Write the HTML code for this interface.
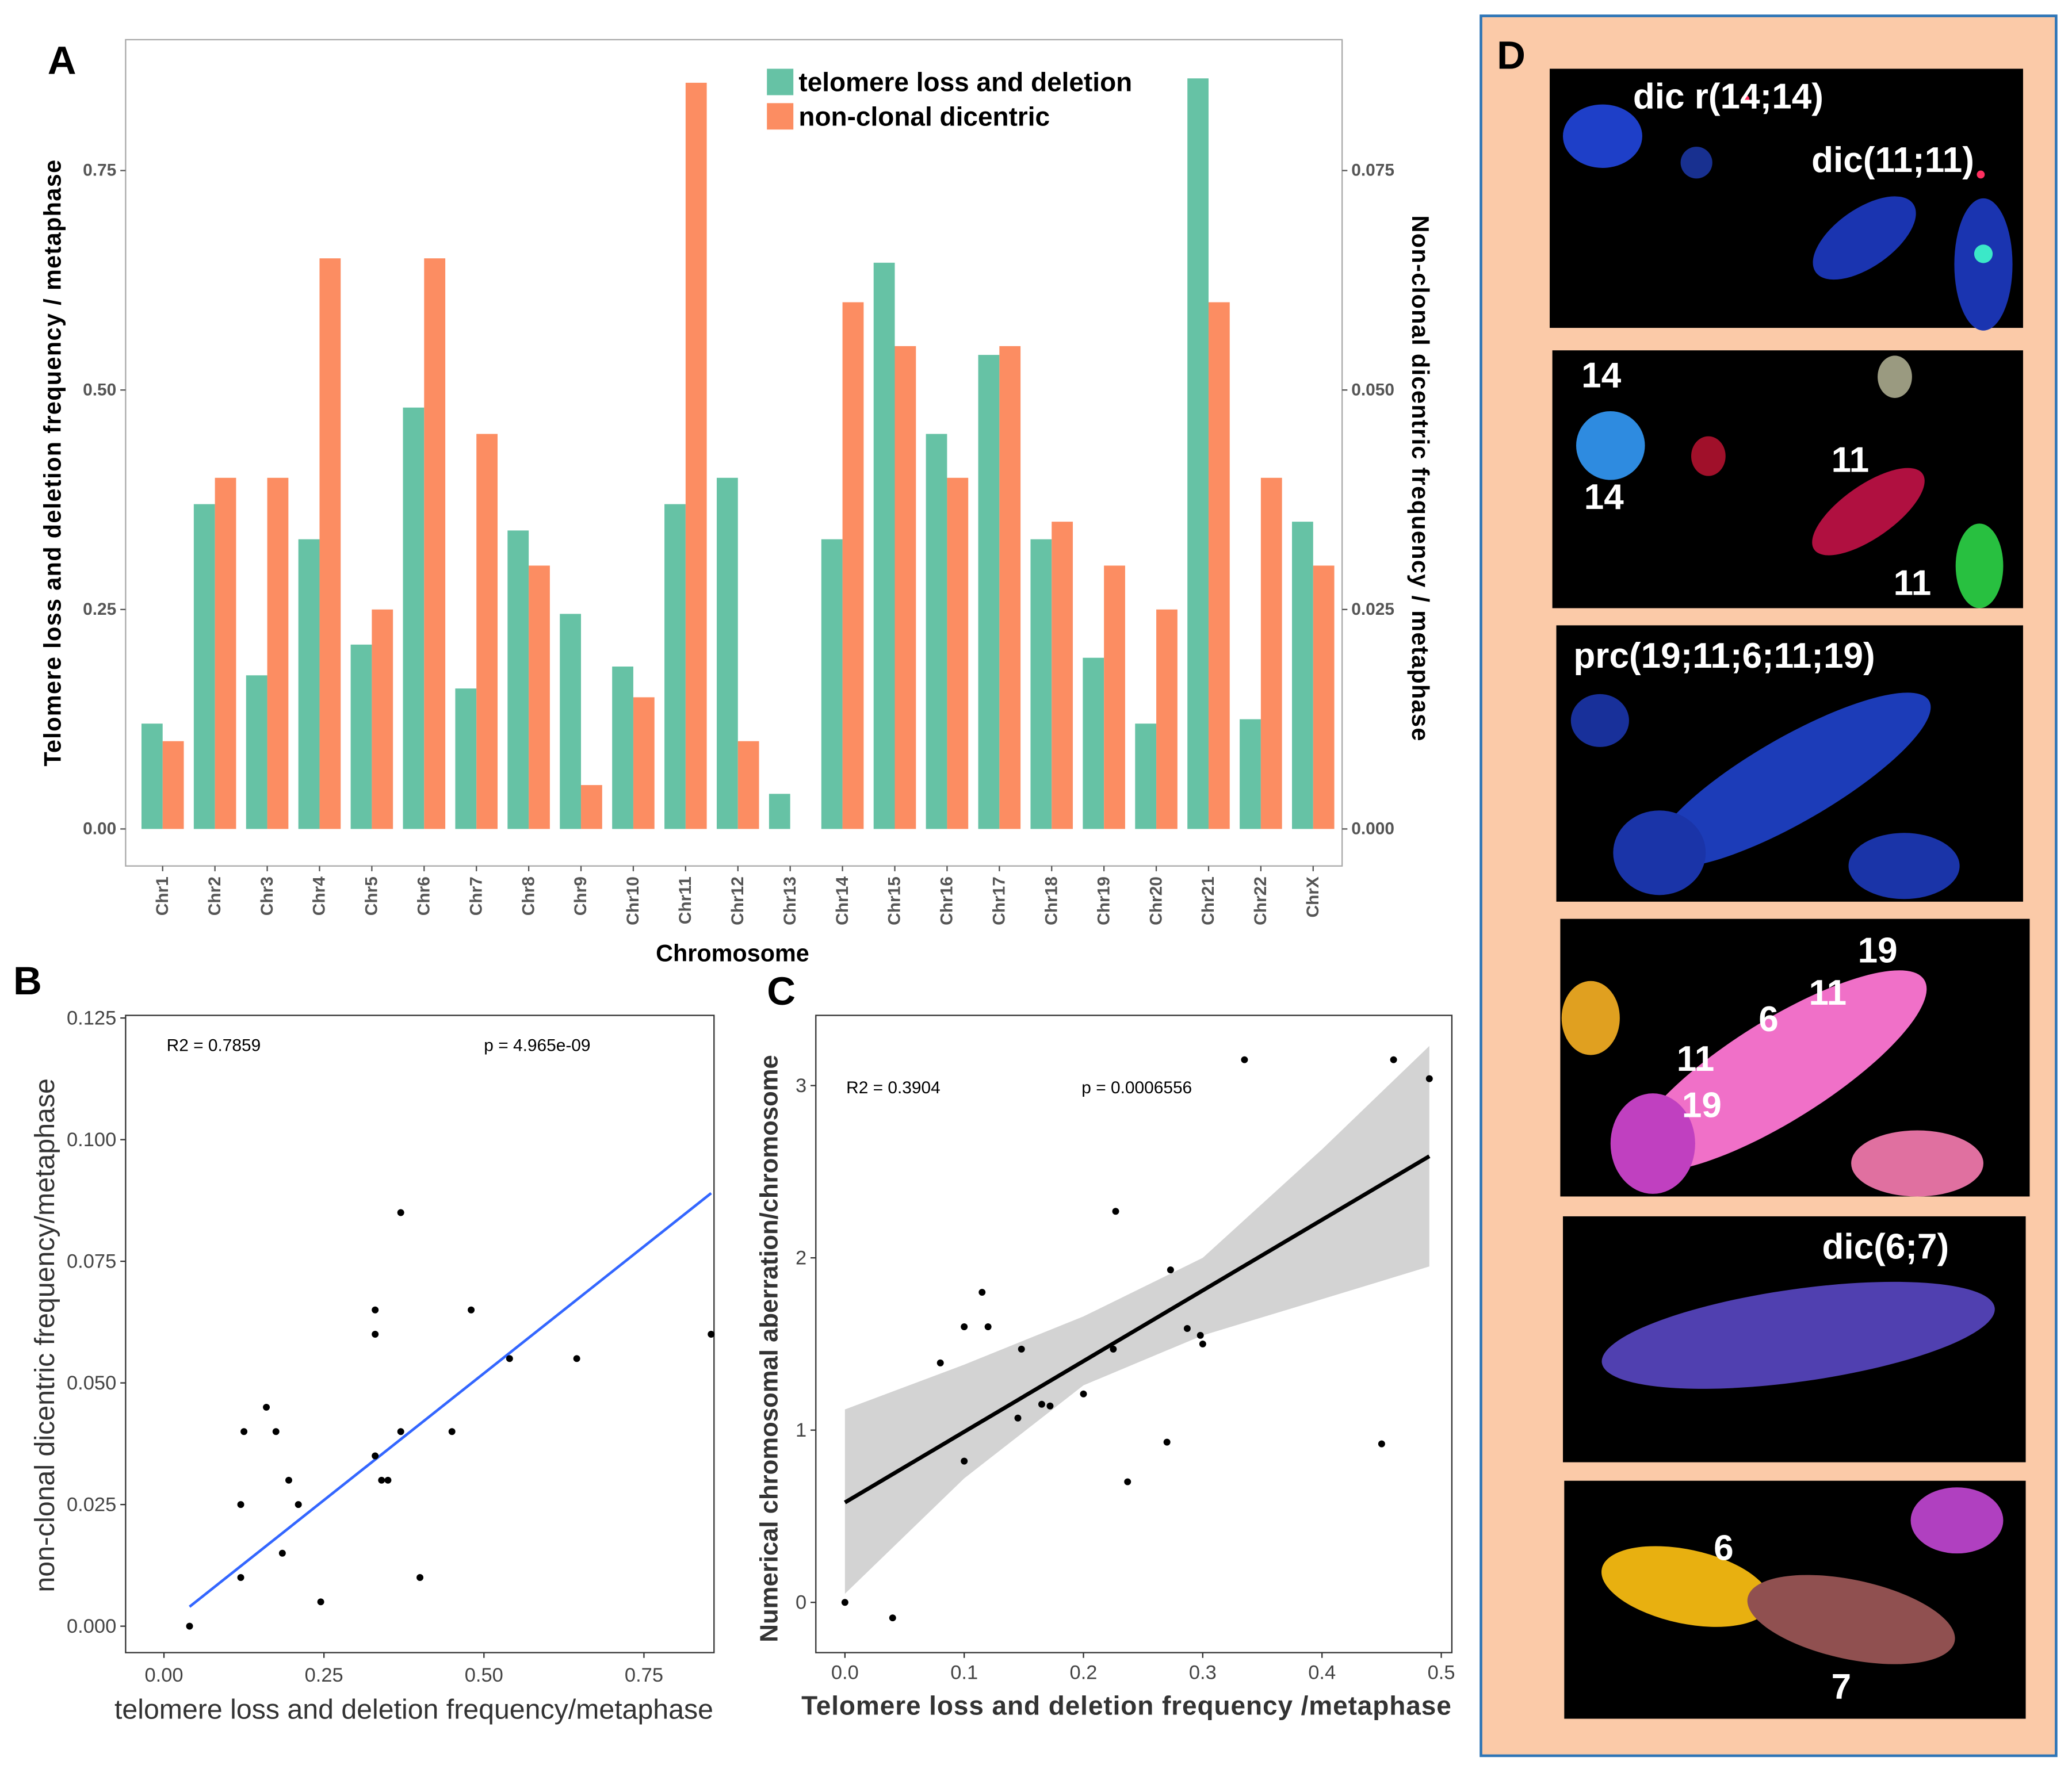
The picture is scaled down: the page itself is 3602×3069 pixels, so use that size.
<!DOCTYPE html>
<html><head><meta charset="utf-8"><style>
html,body{margin:0;padding:0;background:#fff}
svg{display:block}
text{font-family:"Liberation Sans",sans-serif}
</style></head><body>
<svg id="fig" width="3602" height="3069" viewBox="0 0 1567 1335" preserveAspectRatio="none" xmlns="http://www.w3.org/2000/svg">
<rect width="1567" height="1335" fill="#fff"/>
<g id="pA"></g>
<g id="pB"></g>
<g id="pC"></g>
<g id="pD">
 <rect x="1120" y="12" width="435" height="1316" fill="#fbcaa8" stroke="#2e75b6" stroke-width="2"/>
 <text x="1132" y="52" font-size="30" font-weight="bold">D</text>
 <g>
  <rect x="1172" y="52" width="358" height="196" fill="#000"/>
  <ellipse cx="1212" cy="103" rx="30" ry="24" fill="#1e3fc8"/>
  <ellipse cx="1283" cy="123" rx="12" ry="12" fill="#183090"/>
  <ellipse cx="1410" cy="180" rx="45" ry="22" fill="#1a34b0" transform="rotate(-35 1410 180)"/>
  <ellipse cx="1500" cy="200" rx="22" ry="50" fill="#1a34b0"/>
  <circle cx="1500" cy="192" r="7" fill="#3be8c8"/>
  <circle cx="1498" cy="132" r="3" fill="#ff3060"/><circle cx="1320" cy="75" r="3" fill="#ff3060"/>
  <text x="1235" y="82" font-size="27" font-weight="bold" fill="#fff">dic r(14;14)</text>
  <text x="1370" y="130" font-size="27" font-weight="bold" fill="#fff">dic(11;11)</text>
 </g>
 <g>
  <rect x="1174" y="265" width="356" height="195" fill="#000"/>
  <circle cx="1218" cy="337" r="26" fill="#2e8be0"/>
  <ellipse cx="1292" cy="345" rx="13" ry="15" fill="#a0102a"/>
  <ellipse cx="1413" cy="387" rx="50" ry="20" fill="#b01040" transform="rotate(-35 1413 387)"/>
  <ellipse cx="1497" cy="428" rx="18" ry="32" fill="#28c040"/>
  <ellipse cx="1433" cy="285" rx="13" ry="16" fill="#9a9a80"/>
  <text x="1196" y="293" font-size="27" font-weight="bold" fill="#fff">14</text>
  <text x="1198" y="385" font-size="27" font-weight="bold" fill="#fff">14</text>
  <text x="1385" y="357" font-size="27" font-weight="bold" fill="#fff">11</text>
  <text x="1432" y="450" font-size="27" font-weight="bold" fill="#fff">11</text>
 </g>
 <g>
  <rect x="1177" y="473" width="353" height="209" fill="#000"/>
  <ellipse cx="1355" cy="590" rx="120" ry="32" fill="#1c3cb8" transform="rotate(-30 1355 590)"/>
  <ellipse cx="1255" cy="645" rx="35" ry="32" fill="#1a34a8"/>
  <ellipse cx="1440" cy="655" rx="42" ry="25" fill="#1a34a8"/>
  <ellipse cx="1210" cy="545" rx="22" ry="20" fill="#18309a"/>
  <text x="1190" y="505" font-size="27" font-weight="bold" fill="#fff">prc(19;11;6;11;19)</text>
 </g>
 <g>
  <rect x="1180" y="695" width="355" height="210" fill="#000"/>
  <ellipse cx="1345" cy="810" rx="130" ry="38" fill="#f070c8" transform="rotate(-32 1345 810)"/>
  <ellipse cx="1250" cy="865" rx="32" ry="38" fill="#c040c0"/>
  <ellipse cx="1450" cy="880" rx="50" ry="25" fill="#e070a0"/>
  <ellipse cx="1203" cy="770" rx="22" ry="28" fill="#e0a020"/>
  <text x="1405" y="728" font-size="27" font-weight="bold" fill="#fff">19</text>
  <text x="1368" y="760" font-size="27" font-weight="bold" fill="#fff">11</text>
  <text x="1330" y="780" font-size="27" font-weight="bold" fill="#fff">6</text>
  <text x="1268" y="810" font-size="27" font-weight="bold" fill="#fff">11</text>
  <text x="1272" y="845" font-size="27" font-weight="bold" fill="#fff">19</text>
 </g>
 <g>
  <rect x="1182" y="920" width="350" height="186" fill="#000"/>
  <ellipse cx="1360" cy="1010" rx="150" ry="35" fill="#5040b0" transform="rotate(-8 1360 1010)"/>
  <text x="1378" y="952" font-size="27" font-weight="bold" fill="#fff">dic(6;7)</text>
 </g>
 <g>
  <rect x="1183" y="1120" width="349" height="180" fill="#000"/>
  <ellipse cx="1275" cy="1200" rx="65" ry="28" fill="#e8b010" transform="rotate(12 1275 1200)"/>
  <ellipse cx="1400" cy="1225" rx="80" ry="30" fill="#905050" transform="rotate(12 1400 1225)"/>
  <ellipse cx="1480" cy="1150" rx="35" ry="25" fill="#b040c0"/>
  <text x="1296" y="1180" font-size="27" font-weight="bold" fill="#fff">6</text>
  <text x="1385" y="1285" font-size="27" font-weight="bold" fill="#fff">7</text>
 </g>
</g>
</svg>
<script>
const chromosomes=["Chr1","Chr2","Chr3","Chr4","Chr5","Chr6","Chr7","Chr8","Chr9","Chr10","Chr11","Chr12","Chr13","Chr14","Chr15","Chr16","Chr17","Chr18","Chr19","Chr20","Chr21","Chr22","ChrX"];
const telomereLoss=[0.12,0.37,0.175,0.33,0.21,0.48,0.16,0.34,0.245,0.185,0.37,0.40,0.04,0.33,0.645,0.45,0.54,0.33,0.195,0.12,0.855,0.125,0.35];
const dicentric=[0.010,0.040,0.040,0.065,0.025,0.065,0.045,0.030,0.005,0.015,0.085,0.010,0,0.060,0.055,0.040,0.055,0.035,0.030,0.025,0.060,0.040,0.030];
const leftTicks=["0.00","0.25","0.50","0.75"];
const rightTicks=["0.000","0.025","0.050","0.075"];
const bXTicks=["0.00","0.25","0.50","0.75"];
const bYTicks=["0.000","0.025","0.050","0.075","0.100","0.125"];
const bFitStart=[0.04,0.004];
const bFitEnd=[0.855,0.089];
const cX=[0,0.04,0.08,0.1,0.1,0.115,0.12,0.145,0.148,0.165,0.172,0.2,0.225,0.227,0.237,0.27,0.273,0.287,0.298,0.3,0.335,0.45,0.46,0.49];
const cY=[0,-0.09,1.39,0.82,1.6,1.8,1.6,1.07,1.47,1.15,1.14,1.21,1.47,2.27,0.7,0.93,1.93,1.59,1.55,1.5,3.15,0.92,3.15,3.04];
const cXTicks=["0.0","0.1","0.2","0.3","0.4","0.5"];
const cYTicks=["0","1","2","3"];
const cFit=[0.58,2.59];
const cBandX=[0,0.1,0.2,0.3,0.4,0.49];
const cBandLo=[0.05,0.72,1.26,1.55,1.76,1.95];
const cBandHi=[1.12,1.38,1.66,2.0,2.63,3.23];

const NS="http://www.w3.org/2000/svg";
function mk(parent,tag,attrs,txt){const e=document.createElementNS(NS,tag);for(const k in attrs)e.setAttribute(k,attrs[k]);if(txt!==undefined)e.textContent=txt;parent.appendChild(e);return e;}

// Panel A
const A=document.getElementById('pA');
const ay=v=>627-v/0.25*166, ary=v=>627-v/0.025*166, ax=i=>123+i*39.55;
let e=mk(A,'rect',{x:95,y:30,width:920,height:625,fill:'#fff',stroke:'#aaa','stroke-width':1});

e=mk(A,'text',{x:36,y:56,'font-size':30,'font-weight':'bold'},'A');

leftTicks.forEach(t=>{const v=parseFloat(t);mk(A,'line',{x1:91,x2:95,y1:ay(v),y2:ay(v),stroke:'#555'});
 e=mk(A,'text',{x:88,y:ay(v)+4,'font-size':13,'font-weight':'bold','text-anchor':'end',fill:'#555'},t);
 });
rightTicks.forEach(t=>{const v=parseFloat(t);mk(A,'line',{x1:1015,x2:1019,y1:ary(v),y2:ary(v),stroke:'#555'});
 e=mk(A,'text',{x:1022,y:ary(v)+4,'font-size':13,'font-weight':'bold',fill:'#555'},t);
 });
chromosomes.forEach((c,i)=>{
 e=mk(A,'rect',{x:ax(i)-16,y:ay(telomereLoss[i]),width:16,height:627-ay(telomereLoss[i]),fill:'#66c2a5'});
 
 e=mk(A,'rect',{x:ax(i),y:ary(dicentric[i]),width:16,height:627-ary(dicentric[i]),fill:'#fc8d62'});
 
 mk(A,'line',{x1:ax(i),x2:ax(i),y1:655,y2:659,stroke:'#555'});
 e=mk(A,'text',{x:0,y:0,'font-size':13,'font-weight':'bold','text-anchor':'end',fill:'#555',transform:`translate(${ax(i)+4},663) rotate(-90)`},c);
 
});
e=mk(A,'text',{x:554,y:727,'font-size':18,'font-weight':'bold','text-anchor':'middle'},'Chromosome');

e=mk(A,'text',{x:0,y:0,'font-size':18,'font-weight':'bold','text-anchor':'middle','letter-spacing':'0.6',transform:'translate(46,350) rotate(-90)'},'Telomere loss and deletion  frequency / metaphase');

e=mk(A,'text',{x:0,y:0,'font-size':18,'font-weight':'bold','text-anchor':'middle','letter-spacing':'0.6',transform:'translate(1068,362) rotate(90)'},'Non-clonal dicentric frequency / metaphase');

e=mk(A,'rect',{x:580,y:52,width:20,height:20,fill:'#66c2a5'});
e=mk(A,'rect',{x:580,y:78,width:20,height:20,fill:'#fc8d62'});
e=mk(A,'text',{x:604,y:69,'font-size':20,'font-weight':'bold'},'telomere loss and deletion');
e=mk(A,'text',{x:604,y:95,'font-size':20,'font-weight':'bold'},'non-clonal dicentric');

// Panel B
const B=document.getElementById('pB');
const bx=v=>124+v/0.25*121, by=v=>1230-v/0.025*92;
e=mk(B,'rect',{x:95,y:768,width:445,height:482,fill:'#fff',stroke:'#333','stroke-width':1});

e=mk(B,'text',{x:10,y:752,'font-size':30,'font-weight':'bold'},'B');
bXTicks.forEach(t=>{const v=parseFloat(t);mk(B,'line',{x1:bx(v),x2:bx(v),y1:1250,y2:1254,stroke:'#333'});
 e=mk(B,'text',{x:bx(v),y:1272,'font-size':15,'text-anchor':'middle',fill:'#444'},t);});
bYTicks.forEach(t=>{const v=parseFloat(t);mk(B,'line',{x1:91,x2:95,y1:by(v),y2:by(v),stroke:'#333'});
 e=mk(B,'text',{x:88,y:by(v)+5,'font-size':15,'text-anchor':'end',fill:'#444'},t);});
e=mk(B,'line',{x1:bx(bFitStart[0]),y1:by(bFitStart[1]),x2:bx(bFitEnd[0]),y2:by(bFitEnd[1]),stroke:'#3366ff','stroke-width':2});

telomereLoss.forEach((v,i)=>{e=mk(B,'circle',{cx:bx(v),cy:by(dicentric[i]),r:2.6,fill:'#000'});});
e=mk(B,'text',{x:126,y:795,'font-size':13},'R2 =  0.7859');
e=mk(B,'text',{x:366,y:795,'font-size':13},'p = 4.965e-09');
e=mk(B,'text',{x:313,y:1300,'font-size':21,'text-anchor':'middle',fill:'#333'},'telomere loss and deletion frequency/metaphase');
e=mk(B,'text',{x:0,y:0,'font-size':21,'text-anchor':'middle',fill:'#333',transform:'translate(41,1010) rotate(-90)'},'non-clonal dicentric frequency/metaphase');

// Panel C
const C=document.getElementById('pC');
const cx=v=>639+v/0.1*90.2, cy=v=>1212-v*130.3;
e=mk(C,'rect',{x:617,y:768,width:481,height:482,fill:'#fff',stroke:'#333','stroke-width':1});

e=mk(C,'text',{x:580,y:760,'font-size':30,'font-weight':'bold'},'C');
let bandPts=cBandX.map((x,i)=>cx(x)+','+cy(cBandHi[i])).concat(cBandX.slice().reverse().map((x,j)=>{const i=cBandX.length-1-j;return cx(x)+','+cy(cBandLo[i]);}));
e=mk(C,'polygon',{points:bandPts.join(' '),fill:'#d3d3d3'});
e=mk(C,'line',{x1:cx(0),y1:cy(cFit[0]),x2:cx(0.49),y2:cy(cFit[1]),stroke:'#000','stroke-width':3});
cXTicks.forEach(t=>{const v=parseFloat(t);mk(C,'line',{x1:cx(v),x2:cx(v),y1:1250,y2:1254,stroke:'#333'});
 e=mk(C,'text',{x:cx(v),y:1270,'font-size':15,'text-anchor':'middle',fill:'#444'},t);});
cYTicks.forEach(t=>{const v=parseFloat(t);mk(C,'line',{x1:613,x2:617,y1:cy(v),y2:cy(v),stroke:'#333'});
 e=mk(C,'text',{x:610,y:cy(v)+5,'font-size':15,'text-anchor':'end',fill:'#444'},t);});
cX.forEach((v,i)=>{e=mk(C,'circle',{cx:cx(v),cy:cy(cY[i]),r:2.6,fill:'#000'});});
e=mk(C,'text',{x:640,y:827,'font-size':13},'R2 =  0.3904');
e=mk(C,'text',{x:818,y:827,'font-size':13},'p = 0.0006556');
e=mk(C,'text',{x:852,y:1297,'font-size':20,'font-weight':'bold','text-anchor':'middle',fill:'#333','letter-spacing':'0.4'},'Telomere  loss  and  deletion  frequency  /metaphase');
e=mk(C,'text',{x:0,y:0,'font-size':19,'font-weight':'bold','text-anchor':'middle',fill:'#333',transform:'translate(588,1020) rotate(-90)'},'Numerical  chromosomal   aberration/chromosome');
</script>
</body></html>
